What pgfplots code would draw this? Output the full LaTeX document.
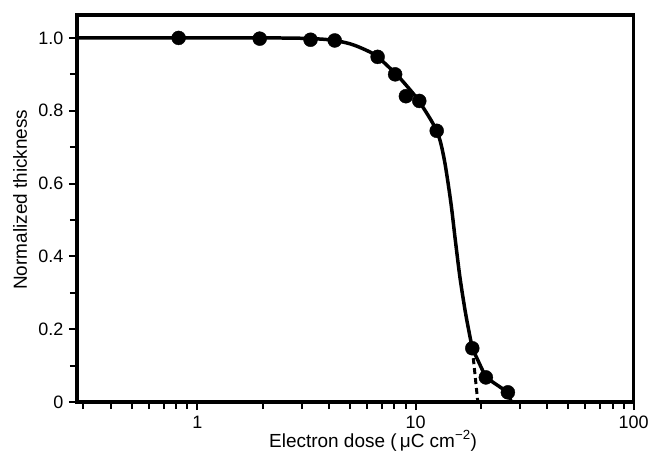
\documentclass[border=0pt]{standalone}
\usepackage{fontspec}
\setmainfont{Liberation Sans}
\usepackage{pgfplots}
\pgfplotsset{compat=1.18}

\begin{document}
\fontsize{19bp}{23bp}\selectfont
\begin{tikzpicture}
\begin{axis}[
    xmode=log,
    scale only axis,
    width=558bp, height=388bp,
    xmin=0.28, xmax=100,
    ymin=0, ymax=1.063,
    xtick={1,10,100}, xticklabels={1,10,100},
    minor xtick={0.3,0.4,0.5,0.6,0.7,0.8,0.9,2,3,4,5,6,7,8,9,20,30,40,50,60,70,80,90},
    ytick={0,0.2,0.4,0.6,0.8,1.0},
    yticklabels={0,0.2,0.4,0.6,0.8,1.0},
    minor ytick={0.1,0.3,0.5,0.7,0.9},
    xtick pos=bottom, ytick pos=left,
    tick align=outside,
    major tick length=8bp, minor tick length=7bp,
    every tick/.style={black, line width=2bp},
    every minor tick/.style={black, line width=2bp},
    xticklabel style={yshift=1bp, font=\fontsize{18bp}{20bp}\selectfont},
    yticklabel style={xshift=1bp, font=\fontsize{18bp}{20bp}\selectfont},
    /pgf/number format/assume math mode=true,
    xlabel={Electron dose (\,μC cm\textsuperscript{−2})},
    ylabel={Normalized thickness},
    xlabel style={at={(axis description cs:0.532,-0.1)}, anchor=center},
    ylabel style={at={(axis description cs:-0.102,0.523)}, anchor=center},
]
% fitted curve
\addplot[black, line width=3.5bp, smooth, tension=0.5] coordinates {
    (0.28,1.0) (1,1.0) (2,1.0) (3,0.999) (4,0.995) (5,0.984) (6,0.965)
    (6.7,0.948) (8,0.905) (9,0.872) (10.4,0.825) (12.5,0.745)
    (13.5,0.67) (14.5,0.55) (15.2,0.447) (16,0.34) (17,0.24) (18.2,0.148)
};
\addplot[black, line width=3.5bp] coordinates {
    (18.2,0.148) (21.0,0.068) (26.5,0.027) (27.5,0.0)
};
% extrapolation
\addplot[black, line width=3bp, dash pattern=on 6bp off 4bp] coordinates {
    (18.2,0.148) (19.3,0.0)
};
% measured points
\addplot[only marks, mark=*, mark size=7bp, black] coordinates {
    (0.82,1.0) (1.93,0.998) (3.3,0.995) (4.26,0.993) (6.7,0.948)
    (8.06,0.90) (9.03,0.84) (10.4,0.827) (12.5,0.745)
    (18.2,0.148) (21.0,0.068) (26.5,0.027)
};
\end{axis}
\draw[line width=3.5bp] (current axis.south west) rectangle (current axis.north east);
\path (current axis.south west) ++(-77bp,-56bp)
      rectangle ([shift={(20bp,15bp)}]current axis.north east);
\end{tikzpicture}
\end{document}
